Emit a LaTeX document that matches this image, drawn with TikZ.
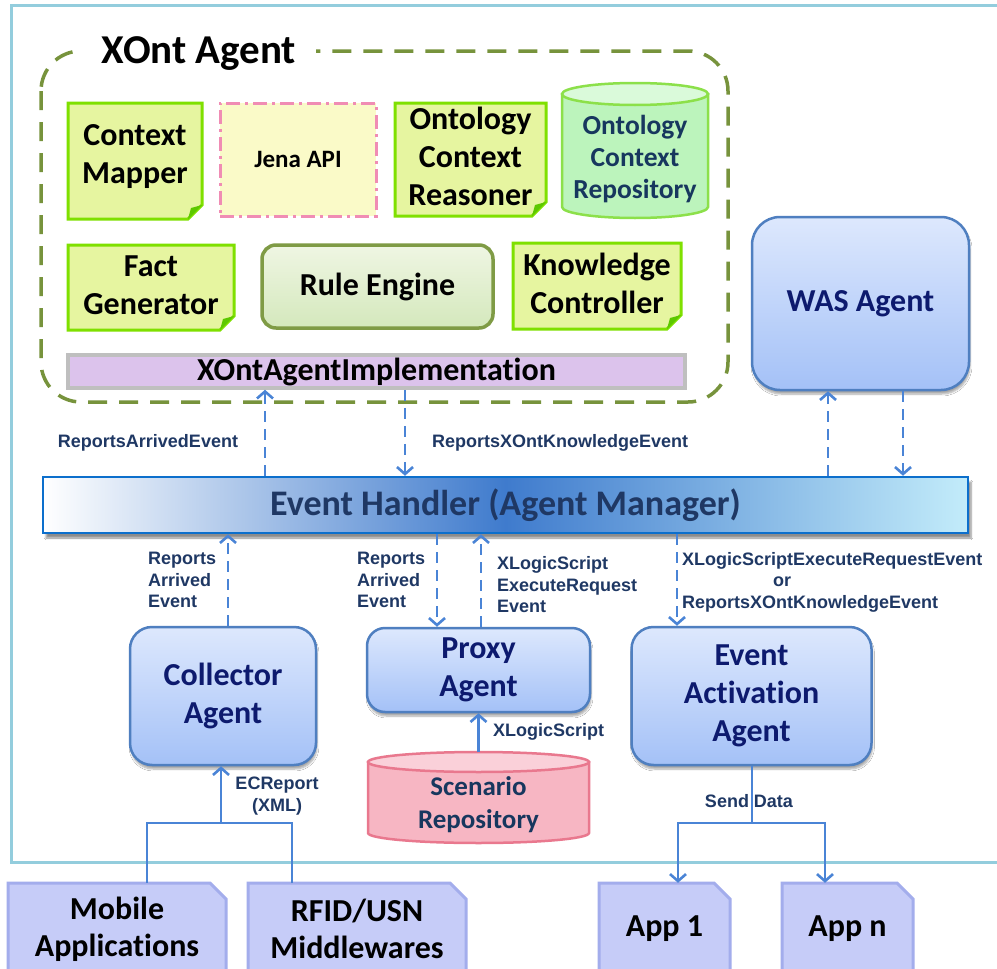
\documentclass[tikz,border=0pt]{standalone}
\usepackage{fontspec}
\setmainfont{Carlito}[Ligatures=NoCommon]
\newfontfamily\labfont{Liberation Sans}
\usetikzlibrary{arrows.meta,shadows.blur}

\definecolor{framec}{HTML}{93CDDD}
\definecolor{olivec}{HTML}{77933C}
\definecolor{notefill}{HTML}{E6F5A0}
\definecolor{noteline}{HTML}{7FE000}
\definecolor{notefold}{HTML}{5CC800}
\definecolor{jenafill}{HTML}{FAFAC8}
\definecolor{jenaline}{HTML}{F08CB4}
\definecolor{repotop}{HTML}{DAFADA}
\definecolor{repobody}{HTML}{BCF4BC}
\definecolor{repoline}{HTML}{8CE04A}
\definecolor{navytext}{HTML}{17375E}
\definecolor{ruletop}{HTML}{EFF6E3}
\definecolor{rulebot}{HTML}{D4E8BC}
\definecolor{ruleline}{HTML}{7F9B45}
\definecolor{implfill}{HTML}{DCC3EC}
\definecolor{implline}{HTML}{BFBFBF}
\definecolor{agenttop}{HTML}{DDE8FD}
\definecolor{agentbot}{HTML}{A4C1F7}
\definecolor{agentline}{HTML}{4F7FC0}
\definecolor{agenttext}{HTML}{0D1A6E}
\definecolor{ehline}{HTML}{0C6FCC}
\definecolor{ehmid}{HTML}{3F7BCD}
\definecolor{ehright}{HTML}{C3ECFA}
\definecolor{ehtext}{HTML}{1F3864}
\definecolor{arrowc}{HTML}{4A84D6}
\definecolor{labc}{HTML}{1F3864}
\definecolor{scentop}{HTML}{FAD0D9}
\definecolor{scenbody}{HTML}{F7B6C3}
\definecolor{scenline}{HTML}{E9788E}
\definecolor{docfill}{HTML}{C6CCF8}
\definecolor{docline}{HTML}{A3ADEC}

\newcommand\fsz[2]{\fontsize{#1}{#2}\selectfont}

\tikzset{
  notebody/.style={draw=noteline, fill=notefill, line width=3pt, line join=miter},
  notetxt/.style={font=\fsz{32}{38}\bfseries, align=center, text=black, inner sep=0pt},
  agent/.style={draw=agentline, line width=2.5pt, rounded corners=22pt,
    top color=agenttop, bottom color=agentbot, text=agenttext, align=center,
    font=\fsz{32}{38}\bfseries, inner sep=0pt,
    blur shadow={shadow xshift=1pt, shadow yshift=-4pt, shadow blur steps=6, shadow opacity=35}},
  ehbar/.style={draw=ehline, line width=2.5pt, left color=white, right color=ehright,
    middle color=ehmid, text=ehtext, font=\fsz{36}{40}\bfseries, inner sep=0pt,
    blur shadow={shadow xshift=3pt, shadow yshift=-5pt, shadow blur steps=6, shadow opacity=45}},
  lab/.style={font=\labfont\fsz{18}{21.5}\bfseries, text=labc, inner sep=0pt, align=left},
  dasharrow/.style={draw=arrowc, line width=2.6pt, dash pattern=on 11pt off 7pt,
    -{Straight Barb[length=7pt, width=16pt, line width=2.6pt]}},
  solidarrow/.style={draw=arrowc, line width=2.6pt,
    -{Straight Barb[length=7pt, width=16pt, line width=2.6pt]}},
  solidline/.style={draw=arrowc, line width=2.6pt},
  docbody/.style={draw=docline, fill=docfill, line width=3pt, line join=miter},
}

% note with a folded lower right corner: name, x1, y1, x2, y2, text y, text
\newcommand\greennote[7]{%
  \draw[notebody] (#2,#3) -- (#4,#3) -- (#4,#5-14) -- (#4-14,#5) -- (#2,#5) -- cycle;
  \fill[notefold] (#4,#5-14) -- (#4-14,#5) -- (#4-11,#5-11) -- cycle;
  \node[notetxt] (#1) at ({(#2+#4)/2},#6) {#7};
}
% document box with a cut upper right corner: name, x1, y1, x2, text y, text
\newcommand\docbox[6]{%
  \draw[docbody] (#2,#3) -- (#4-16,#3) -- (#4,#3+16) -- (#4,990) -- (#2,990) -- cycle;
  \node[font=\fsz{32}{37}\bfseries, align=center, inner sep=0pt,
        minimum width={(#4-#2)*1pt}, minimum height={(2*(#5-#3))*1pt}] (#1) at ({(#2+#4)/2},#5) {#6};
}
% upright cylinder: x1, top, x2, bottom, ellipse half height, top colour, body colour, line colour
\newcommand\drum[8]{%
  \path[fill=#7, draw=#8, line width=2.5pt]
    (#1,#2+#5) -- (#1,#4-#5)
    arc[start angle=180, end angle=0, x radius={(#3-#1)/2}, y radius=#5]
    -- (#3,#2+#5) -- cycle;
  \path[fill=#6, draw=#8, line width=2.5pt]
    ({(#1+#3)/2},#2+#5) ellipse[x radius={(#3-#1)/2}, y radius=#5];
}

\begin{document}
\begin{tikzpicture}[x=1pt, y=-1pt]
\useasboundingbox (0,0) rectangle (997,969);
\fill[white] (0,0) rectangle (997,969);

% outer frame
\draw[framec, line width=3pt] (1010,5) -- (11,5) -- (11,862) -- (1010,862);

% XOnt Agent group
\draw[olivec, line width=3.5pt, dash pattern=on 19pt off 12pt, rounded corners=40pt]
  (41,51) rectangle (728,402);
\node[fill=white, font=\fsz{41}{42}\bfseries, inner xsep=20pt, inner ysep=3pt]
  (xont) at (199,54) {XOnt Agent};

\greennote{cmap}{68}{103}{202}{219}{157}{Context\\Mapper}
\greennote{ocr}{395}{103}{546}{216}{156}{Ontology\\Context\\Reasoner}
\greennote{fgen}{68}{245}{234}{330}{285}{Fact\\Generator}
\greennote{kctl}{513}{243}{681}{329}{283}{Knowledge\\Controller}

\node[draw=jenaline, fill=jenafill, line width=3pt, dash pattern=on 14pt off 5pt on 3pt off 5pt,
      minimum width=156pt, minimum height=113pt, inner sep=0pt, font=\fsz{25}{30}\bfseries]
  (jena) at (298,159.5) {Jena API};

\drum{562}{83}{708}{218}{11}{repotop}{repobody}{repoline}
\node[font=\fsz{27.5}{32}\bfseries, text=navytext, align=center, inner sep=0pt]
  (ocrepo) at (635,159) {Ontology\\Context\\Repository};

\node[draw=ruleline, line width=3.5pt, rounded corners=14pt, top color=ruletop, bottom color=rulebot,
      minimum width=231pt, minimum height=83pt, inner sep=0pt, font=\fsz{32}{36}\bfseries]
  (rule) at (377.5,286.5) {Rule Engine};

\node[draw=implline, fill=implfill, line width=3.5pt, minimum width=617pt, minimum height=33pt,
      inner sep=0pt, font=\fsz{32}{34}\bfseries]
  (impl) at (376.5,371.5) {XOntAgentImplementation};

% agents
\node[agent, rounded corners=28pt, minimum width=217pt, minimum height=173pt]
  (was) at (860.5,303.5) {WAS Agent};
\node[ehbar, minimum width=925pt, minimum height=56pt] (eh) at (505.5,505) {Event Handler (Agent Manager)};
\node[agent, minimum width=186pt, minimum height=138pt] (coll) at (223,696) {Collector\\Agent};
\node[agent, rounded corners=18pt, minimum width=223pt, minimum height=84pt] (proxy) at (478.5,670) {Proxy\\Agent};
\node[agent, minimum width=240pt, minimum height=138pt] (ea) at (751.5,696) {Event\\Activation\\Agent};

% scenario store
\drum{368}{752}{589}{843}{10}{scentop}{scenbody}{scenline}
\node[font=\fsz{27}{33}\bfseries, text=navytext, align=center, inner sep=0pt]
  (scen) at (478.5,805) {Scenario\\Repository};
\coordinate (scentopc) at (478.5,752);

% sources and targets
\docbox{mob}{8}{883}{226}{929}{Mobile\\Applications}
\docbox{rfid}{248}{883}{466}{929}{RFID/USN\\Middlewares}
\docbox{app1}{599}{883}{730}{929}{App 1}
\docbox{appn}{782}{883}{913}{929}{App n}

% event connectors
\coordinate (ax1) at (265,0);
\coordinate (ax2) at (405,0);
\coordinate (ax3) at (828,0);
\coordinate (ax4) at (903,0);
\coordinate (ax5) at (228,0);
\coordinate (ax6) at (437,0);
\coordinate (ax7) at (481,0);
\coordinate (ax8) at (677,0);
\draw[dasharrow] (eh.north -| ax1) -- (impl.south -| ax1);
\draw[dasharrow] (impl.south -| ax2) -- (eh.north -| ax2);
\draw[dasharrow] (eh.north -| ax3) -- (was.south -| ax3);
\draw[dasharrow] (was.south -| ax4) -- (eh.north -| ax4);
\draw[dasharrow] (coll.north -| ax5) -- (eh.south -| ax5);
\draw[dasharrow] (eh.south -| ax6) -- (proxy.north -| ax6);
\draw[dasharrow] (proxy.north -| ax7) -- (eh.south -| ax7);
\draw[dasharrow] (eh.south -| ax8) -- (ea.north -| ax8);

\node[lab] (l1) at (148,443) {ReportsArrivedEvent};
\node[lab, anchor=west] (l2) at (432,443) {ReportsXOntKnowledgeEvent};
\node[lab, anchor=west] (l3) at (148,580) {Reports\\Arrived\\Event};
\node[lab, anchor=west] (l4) at (357,580) {Reports\\Arrived\\Event};
\node[lab, anchor=west] (l5) at (497,585) {XLogicScript\\ExecuteRequest\\Event};
\node[lab, anchor=west] (l6) at (682,582)
  {XLogicScriptExecuteRequestEvent\\\hspace*{91pt}or\\ReportsXOntKnowledgeEvent};

% data connectors
\draw[solidarrow] (scentopc) -- (proxy.south);
\node[lab, anchor=west] (l7) at (493,732) {XLogicScript};

\coordinate (jl) at (147,823);
\coordinate (jm) at (221,823);
\coordinate (jr) at (292,823);
\draw[solidline] (mob.north -| jl) -- (jl) -- (jr) -- (rfid.north -| jr);
\draw[solidarrow] (jm) -- (coll.south -| jm);
\node[lab, align=center] (l8) at (277,796) {ECReport\\(XML)};

\coordinate (sd) at (752,823);
\coordinate (s1) at (678,823);
\coordinate (s2) at (825,823);
\draw[solidline] (ea.south -| sd) -- (sd);
\draw[solidarrow] (sd) -| (app1.north -| s1);
\draw[solidarrow] (sd) -| (appn.north -| s2);
\node[lab] (l9) at (749,801) {Send Data};
\end{tikzpicture}
\end{document}
